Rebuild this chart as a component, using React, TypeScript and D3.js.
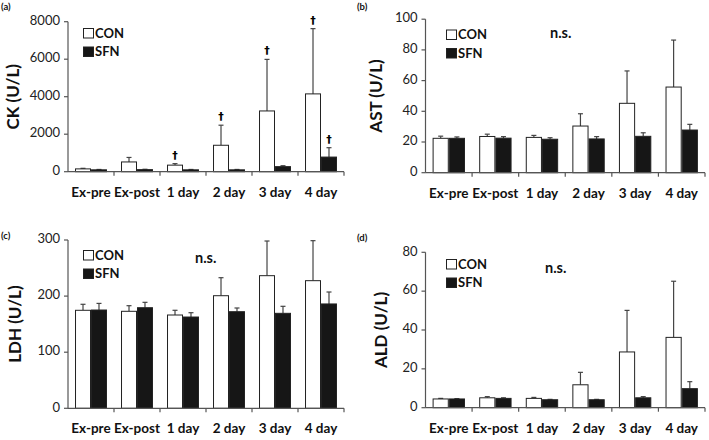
import React from "react";
import * as d3 from "d3";

const categories = ["Ex-pre", "Ex-post", "1 day", "2 day", "3 day", "4 day"];
const series = ["CON", "SFN"];

// CK (U/L)
const ckCon = [150, 520, 350, 1410, 3240, 4150];
const ckConSd = [30, 240, 80, 1070, 2750, 3480];
const ckSfn = [100, 110, 100, 100, 270, 780];
const ckSfnSd = [20, 20, 20, 20, 50, 500];
const ckConSig = [false, false, true, true, true, true];
const ckSfnSig = [false, false, false, false, false, true];

// AST (U/L)
const astCon = [22.4, 23.6, 23.0, 30.4, 45.2, 55.8];
const astConSd = [1.4, 1.5, 1.3, 8.0, 21.1, 30.6];
const astSfn = [22.4, 22.5, 21.8, 22.0, 23.7, 27.8];
const astSfnSd = [0.9, 1.0, 1.0, 1.5, 2.3, 3.7];

// LDH (U/L)
const ldhCon = [174.7, 172.9, 166.3, 200.7, 236.4, 227.5];
const ldhConSd = [10.7, 10.0, 8.4, 32.1, 61.8, 71.3];
const ldhSfn = [175.2, 179.3, 162.7, 172.2, 169.3, 186.0];
const ldhSfnSd = [11.8, 9.6, 7.7, 6.6, 12.5, 21.3];

// ALD (U/L)
const aldCon = [4.5, 5.1, 4.8, 11.8, 28.7, 36.2];
const aldConSd = [0.3, 0.6, 0.5, 6.4, 21.4, 28.9];
const aldSfn = [4.5, 4.8, 4.1, 4.1, 5.1, 9.8];
const aldSfnSd = [0.2, 0.3, 0.2, 0.2, 0.6, 3.6];

const FONT = "Lato, 'Open Sans', sans-serif";
const AXIS = "#555";
const ERR = "#444";

interface PanelProps {
  tag: string;
  tagX: number;
  tagY: number;
  title: string;
  titleX: number;
  left: number;
  right: number;
  top: number;
  bottom: number;
  max: number;
  step: number;
  con: number[];
  conSd: number[];
  sfn: number[];
  sfnSd: number[];
  conSig?: boolean[];
  sfnSig?: boolean[];
  legendX: number;
  legendY: number;
  ns?: [number, number];
}

const Panel: React.FC<PanelProps> = (p) => {
  const x0 = d3.scaleBand<string>().domain(categories).range([p.left, p.right]);
  const x1 = d3
    .scaleBand<string>()
    .domain(series)
    .range([0, x0.bandwidth()])
    .paddingInner(0.0625)
    .paddingOuter(0.47);
  const y = d3.scaleLinear().domain([0, p.max]).range([p.bottom, p.top]);
  const ticks = d3.range(0, p.max + p.step / 2, p.step);
  const bw = x1.bandwidth();

  const groups = [
    { key: "CON", vals: p.con, sd: p.conSd, sig: p.conSig, fill: "#fff" },
    { key: "SFN", vals: p.sfn, sd: p.sfnSd, sig: p.sfnSig, fill: "#161616" },
  ];

  return (
    <g>
      <text x={p.tagX} y={p.tagY} fontFamily={FONT} fontWeight="bold" fontSize={9.5} fill="#111">
        {p.tag}
      </text>
      <text
        transform={`translate(${p.titleX},${(p.top + p.bottom) / 2}) rotate(-90)`}
        textAnchor="middle"
        dominantBaseline="middle"
        fontFamily={FONT}
        fontWeight="bold"
        fontSize={17}
        fill="#111"
      >
        {p.title}
      </text>

      {groups.map((g) =>
        categories.map((c, i) => {
          const bx = x0(c)! + x1(g.key)!;
          const cx = bx + bw / 2;
          const yTop = y(g.vals[i]);
          const yErr = y(g.vals[i] + g.sd[i]);
          return (
            <g key={g.key + c}>
              <line x1={cx} x2={cx} y1={yTop} y2={yErr} stroke={ERR} strokeWidth={1.2} />
              <line x1={cx - 2.5} x2={cx + 2.5} y1={yErr} y2={yErr} stroke={ERR} strokeWidth={1.2} />
              <rect
                x={bx}
                y={yTop}
                width={bw}
                height={p.bottom - yTop}
                fill={g.fill}
                stroke="#222"
                strokeWidth={1}
              />
              {g.sig && g.sig[i] && (
                <text
                  x={cx}
                  y={yErr - 5}
                  textAnchor="middle"
                  fontFamily="'DejaVu Sans', sans-serif"
                  fontWeight="bold"
                  fontSize={11}
                  fill="#000"
                >
                  †
                </text>
              )}
            </g>
          );
        })
      )}

      {/* y axis */}
      <line x1={p.left} x2={p.left} y1={p.top} y2={p.bottom} stroke={AXIS} strokeWidth={1.2} />
      {ticks.map((t) => (
        <g key={t}>
          <line x1={p.left - 4} x2={p.left} y1={y(t)} y2={y(t)} stroke={AXIS} strokeWidth={1.2} />
          <text
            x={p.left - 8}
            y={y(t)}
            textAnchor="end"
            dominantBaseline="middle"
            fontFamily={FONT}
            fontSize={13}
            fill="#222"
          >
            {t}
          </text>
        </g>
      ))}

      {/* x axis */}
      <line x1={p.left} x2={p.right} y1={p.bottom} y2={p.bottom} stroke={AXIS} strokeWidth={1.2} />
      {categories.map((c) => (
        <g key={c}>
          <line
            x1={x0(c)! + x0.bandwidth()}
            x2={x0(c)! + x0.bandwidth()}
            y1={p.bottom}
            y2={p.bottom + 4}
            stroke={AXIS}
            strokeWidth={1.2}
          />
          <text
            x={x0(c)! + x0.bandwidth() / 2}
            y={p.bottom + 25}
            textAnchor="middle"
            fontFamily={FONT}
            fontWeight="bold"
            fontSize={13.5}
            fill="#111"
          >
            {c}
          </text>
        </g>
      ))}

      {/* legend */}
      {groups.map((g, i) => (
        <g key={g.key} transform={`translate(${p.legendX},${p.legendY + i * 18.5})`}>
          <rect x={0.5} y={0.5} width={10} height={9.5} fill={g.fill} stroke="#222" strokeWidth={1} />
          <text x={12} y={9.8} fontFamily={FONT} fontWeight="bold" fontSize={13} fill="#111">
            {g.key}
          </text>
        </g>
      ))}

      {p.ns && (
        <text x={p.ns[0]} y={p.ns[1]} fontFamily={FONT} fontWeight="bold" fontSize={14.5} fill="#111">
          n.s.
        </text>
      )}
    </g>
  );
};

export default function App() {
  return (
    <svg
      width={709}
      height={440}
      viewBox="0 0 709 440"
      style={{ position: "absolute", left: 0, top: 0, background: "#fff" }}
    >
      <Panel
        tag="(a)"
        tagX={1}
        tagY={10}
        title="CK (U/L)"
        titleX={15}
        left={68}
        right={344}
        top={21.7}
        bottom={171.7}
        max={8000}
        step={2000}
        con={ckCon}
        conSd={ckConSd}
        sfn={ckSfn}
        sfnSd={ckSfnSd}
        conSig={ckConSig}
        sfnSig={ckSfnSig}
        legendX={83}
        legendY={28}
      />
      <Panel
        tag="(b)"
        tagX={357}
        tagY={10}
        title="AST (U/L)"
        titleX={378}
        left={425.5}
        right={705}
        top={19.2}
        bottom={172.7}
        max={100}
        step={20}
        con={astCon}
        conSd={astConSd}
        sfn={astSfn}
        sfnSd={astSfnSd}
        legendX={446}
        legendY={29.5}
        ns={[550, 38]}
      />
      <Panel
        tag="(c)"
        tagX={1}
        tagY={239}
        title="LDH (U/L)"
        titleX={17}
        left={68}
        right={344}
        top={240}
        bottom={408.3}
        max={300}
        step={100}
        con={ldhCon}
        conSd={ldhConSd}
        sfn={ldhSfn}
        sfnSd={ldhSfnSd}
        legendX={83}
        legendY={250}
        ns={[195, 263]}
      />
      <Panel
        tag="(d)"
        tagX={357}
        tagY={241}
        title="ALD (U/L)"
        titleX={383}
        left={425.5}
        right={705}
        top={252.3}
        bottom={407.7}
        max={80}
        step={20}
        con={aldCon}
        conSd={aldConSd}
        sfn={aldSfn}
        sfnSd={aldSfnSd}
        legendX={446}
        legendY={259}
        ns={[545, 273]}
      />
    </svg>
  );
}
